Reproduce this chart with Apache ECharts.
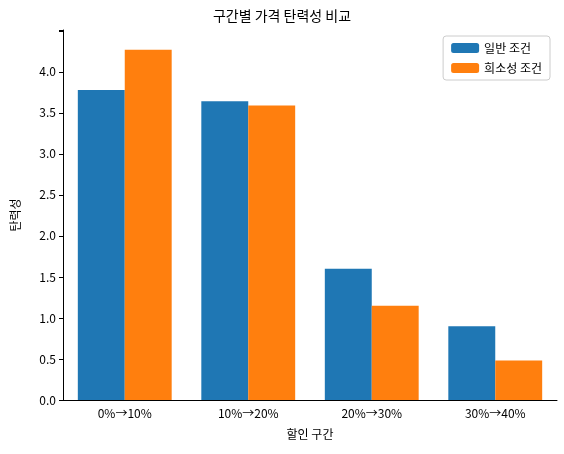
<!DOCTYPE html>
<html><head><meta charset="utf-8">
<script src="https://cdn.jsdelivr.net/npm/echarts@6/dist/echarts.min.js"></script>
<style>html,body{margin:0;padding:0;background:#fff}#c{width:564px;height:454px}</style>
</head><body><div id="c"></div>
<script>
const categories = ['0%→10%', '10%→20%', '20%→30%', '30%→40%'];
const normalValues = [3.78, 3.64, 1.60, 0.90];
const scarcityValues = [4.27, 3.59, 1.15, 0.48];
const yTicks = [0, 0.5, 1, 1.5, 2, 2.5, 3, 3.5, 4];
const font = 'Noto Sans CJK KR';

const chart = echarts.init(document.getElementById('c'));
chart.setOption({
  animation: false,
  textStyle: { fontFamily: font },
  title: { text: '구간별 가격 탄력성 비교', left: 'center', top: 4,
    textStyle: { fontFamily: font, fontSize: 14, fontWeight: 'normal', color: '#000' } },
  legend: {
    right: 14, top: 36, orient: 'vertical', itemWidth: 28, itemHeight: 10, itemGap: 8,
    padding: [6, 8], borderColor: '#ccc', borderWidth: 1, borderRadius: 3,
    textStyle: { fontFamily: font, fontSize: 12, color: '#000' },
    data: ['일반 조건', '희소성 조건']
  },
  grid: { left: 63, right: 7, top: 30, bottom: 54 },
  xAxis: {
    type: 'category', data: categories,
    name: '할인 구간', nameLocation: 'middle', nameGap: 28,
    nameTextStyle: { fontFamily: font, fontSize: 12, color: '#000' },
    axisLine: { lineStyle: { color: '#000' } },
    axisTick: { alignWithLabel: true, inside: false, length: 4, lineStyle: { color: '#000' } },
    axisLabel: { color: '#000', fontSize: 12, margin: 7 }
  },
  yAxis: {
    type: 'value', min: 0, max: 4.51, interval: 0.5,
    name: '탄력성', nameLocation: 'middle', nameGap: 42,
    nameTextStyle: { fontFamily: font, fontSize: 12, color: '#000' },
    axisLine: { show: true, lineStyle: { color: '#000' } },
    axisTick: { show: true, length: 4, lineStyle: { color: '#000' } },
    splitLine: { show: false },
    axisLabel: { color: '#000', fontSize: 12, margin: 7,
      formatter: v => yTicks.includes(v) ? v.toFixed(1) : '' }
  },
  series: [
    { name: '일반 조건', type: 'bar', data: normalValues, barGap: '0%', barCategoryGap: '24%',
      itemStyle: { color: '#1f77b4' } },
    { name: '희소성 조건', type: 'bar', data: scarcityValues,
      itemStyle: { color: '#ff7f0e' } }
  ]
});
</script></body></html>
